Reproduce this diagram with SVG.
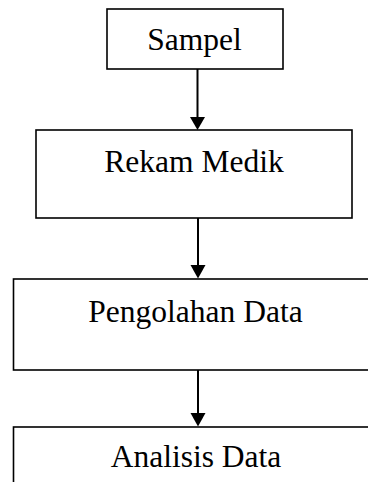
<svg xmlns="http://www.w3.org/2000/svg" width="368" height="482" viewBox="0 0 368 482">
<style>
.box{fill:#fff;stroke:#000;stroke-width:1.6}
.lbl{font-family:"Liberation Serif","Times New Roman",serif;font-size:31.5px;fill:#000;text-anchor:middle}
.conn{stroke:#000;stroke-width:2;fill:none}
.head{fill:#000}
</style>
<rect width="368" height="482" fill="#fff"/>
<g id="node-sampel">
<rect class="box" x="107" y="9" width="176" height="60"/>
<text class="lbl" x="194.5" y="50">Sampel</text>
</g>
<g id="node-rekam-medik">
<rect class="box" x="36" y="130" width="316" height="88"/>
<text class="lbl" x="194" y="172">Rekam Medik</text>
</g>
<g id="node-pengolahan-data">
<rect class="box" x="13.5" y="279" width="400" height="91"/>
<text class="lbl" x="195.5" y="321.5">Pengolahan Data</text>
</g>
<g id="node-analisis-data">
<rect class="box" x="13.5" y="427" width="400" height="100"/>
<text class="lbl" x="196" y="466.5">Analisis Data</text>
</g>
<g id="connectors">
<line class="conn" x1="197.5" y1="69" x2="197.5" y2="118"/>
<polygon class="head" points="190,117 205,117 197.5,130"/>
<line class="conn" x1="198" y1="218" x2="198" y2="266"/>
<polygon class="head" points="190.5,265 205.5,265 198,278.5"/>
<line class="conn" x1="198" y1="370" x2="198" y2="414"/>
<polygon class="head" points="190.5,413 205.5,413 198,426.5"/>
</g>
</svg>
